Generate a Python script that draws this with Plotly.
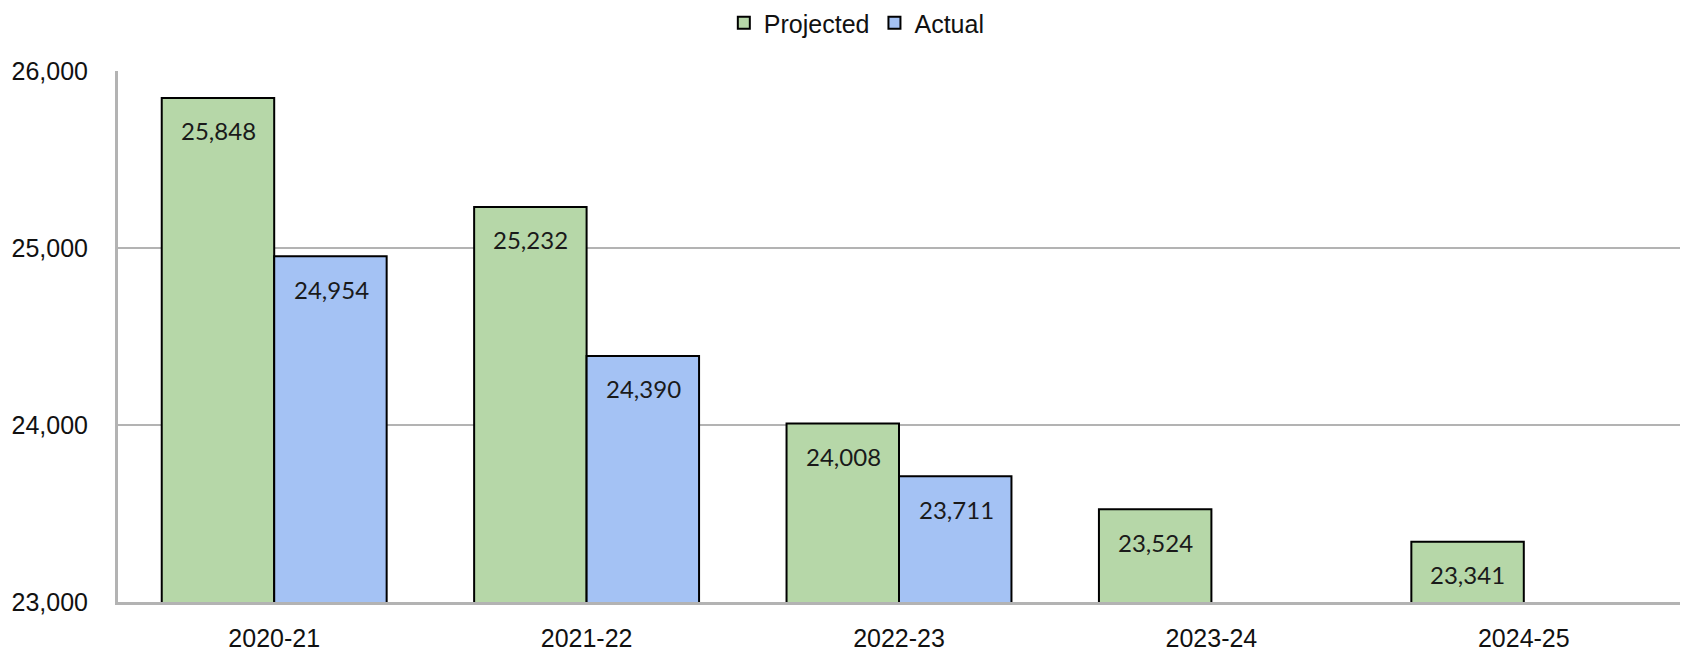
import plotly.graph_objects as go

years = ["2020-21", "2021-22", "2022-23", "2023-24", "2024-25"]
projected = [25848, 25232, 24008, 23524, 23341]
actual = [24954, 24390, 23711, None, None]
y_ticks = [23000, 24000, 25000, 26000]

GREEN = "#b6d7a8"
BLUE = "#a4c2f4"
GRID = "#b3b3b3"

fig = go.Figure()
fig.add_trace(go.Bar(name="Projected", x=years, y=projected,
                     marker=dict(color=GREEN, line=dict(color="black", width=2))))
fig.add_trace(go.Bar(name="Actual", x=years, y=actual,
                     marker=dict(color=BLUE, line=dict(color="black", width=2))))

# value labels placed just under the top edge of each bar
annotations = []
for idx, (series, vals) in enumerate([("Projected", projected), ("Actual", actual)]):
    for i, v in enumerate(vals):
        if v is None:
            continue
        annotations.append(dict(
            x=i, y=v, xref="x", yref="y", text=f"{v:,}", showarrow=False,
            xshift=-56 if idx == 0 else 57, yshift=-33, yanchor="middle",
            font=dict(family="Lato, Carlito, sans-serif", size=24, color="#1a1a1a"),
        ))

fig.update_layout(
    width=1682, height=654,
    margin=dict(l=118, r=2, t=71, b=45),
    plot_bgcolor="white", paper_bgcolor="white",
    barmode="group", bargap=0.28, bargroupgap=0,
    font=dict(family="Liberation Sans, Arial, sans-serif", size=25, color="#111111"),
    legend=dict(orientation="h", x=0.473, xanchor="center", y=1.0, yref="container",
                yanchor="top", font=dict(size=25), itemwidth=30, traceorder="normal"),
    annotations=annotations,
    showlegend=True,
)
fig.update_xaxes(showline=True, linecolor=GRID, linewidth=3, ticks="",
                 ticklabelstandoff=12, showgrid=False)
fig.update_yaxes(range=[23000, 26000], tickvals=y_ticks, tickformat=",",
                 showline=True, linecolor=GRID, linewidth=3,
                 gridcolor=GRID, gridwidth=2, zeroline=False,
                 ticklabelstandoff=22)

fig.write_html("out.html")
